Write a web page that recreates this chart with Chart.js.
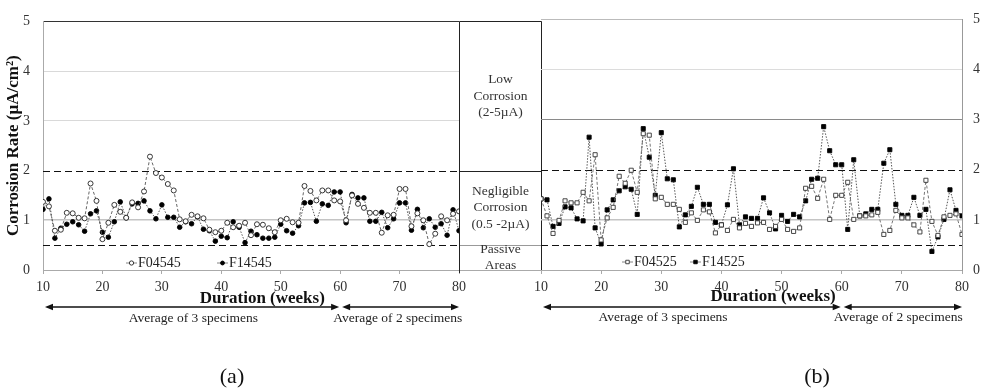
<!DOCTYPE html>
<html>
<head>
<meta charset="utf-8">
<script src="https://cdn.jsdelivr.net/npm/chart.js@4.4.1/dist/chart.umd.min.js"></script>
<style>
  html, body { margin: 0; padding: 0; background: #fff; }
  body { width: 984px; height: 391px; position: relative; overflow: hidden; font-family: "Liberation Serif", "Times New Roman", serif; }
  canvas { position: absolute; top: 0; }
  #chartA { left: 0; }
  #chartB { left: 500px; }
  .cap { position: absolute; top: 376px; font-size: 22px; color: #111; transform: translate(-50%, -50%); white-space: nowrap; }
</style>
</head>
<body>
<canvas id="chartA" width="545" height="391"></canvas>
<canvas id="chartB" width="484" height="391"></canvas>
<div class="cap" style="left:232px">(a)</div>
<div class="cap" style="left:817px">(b)</div>
<script>
// Exposure time, weeks
const weeks = [10, 11, 12, 13, 14, 15, 16, 17, 18, 19,
               20, 21, 22, 23, 24, 25, 26, 27, 28, 29,
               30, 31, 32, 33, 34, 35, 36, 37, 38, 39,
               40, 41, 42, 43, 44, 45, 46, 47, 48, 49,
               50, 51, 52, 53, 54, 55, 56, 57, 58, 59,
               60, 61, 62, 63, 64, 65, 66, 67, 68, 69,
               70, 71, 72, 73, 74, 75, 76, 77, 78, 79, 80];

// Corrosion rate, µA/cm² — panel (a)
const F04545 = [1.37, 1.28, 0.79, 0.81, 1.15, 1.14, 1.05, 1.04, 1.74, 1.39,
                0.62, 0.95, 1.31, 1.17, 1.05, 1.36, 1.26, 1.58, 2.28, 1.95,
                1.86, 1.73, 1.60, 1.02, 0.98, 1.11, 1.08, 1.04, 0.81, 0.76,
                0.79, 0.95, 0.86, 0.89, 0.95, 0.70, 0.92, 0.91, 0.84, 0.76,
                1.00, 1.03, 0.96, 0.95, 1.69, 1.59, 1.40, 1.60, 1.60, 1.40,
                1.38, 1.00, 1.50, 1.33, 1.25, 1.15, 1.15, 0.75, 1.10, 1.11,
                1.63, 1.63, 0.88, 1.14, 1.00, 0.52, 0.73, 1.08, 1.00, 1.13, 1.18];
const F14545 = [1.22, 1.43, 0.64, 0.84, 0.92, 0.97, 0.91, 0.78, 1.13, 1.19,
                0.76, 0.66, 0.97, 1.37, 1.05, 1.33, 1.34, 1.39, 1.19, 1.03,
                1.31, 1.06, 1.06, 0.86, 0.97, 0.93, 1.07, 0.82, 0.79, 0.58,
                0.68, 0.65, 0.97, 0.86, 0.55, 0.78, 0.71, 0.64, 0.64, 0.66,
                0.92, 0.79, 0.74, 0.89, 1.35, 1.36, 0.98, 1.33, 1.30, 1.57,
                1.57, 0.95, 1.52, 1.45, 1.45, 0.98, 0.98, 1.16, 0.85, 1.03,
                1.35, 1.35, 0.80, 1.22, 0.85, 1.03, 0.86, 0.93, 0.70, 1.21, 0.79];

// Corrosion rate, µA/cm² — panel (b)
const F04525 = [1.42, 1.08, 0.73, 0.99, 1.38, 1.34, 1.34, 1.55, 1.38, 2.30,
                0.60, 1.04, 1.25, 1.87, 1.73, 1.99, 1.55, 2.72, 2.69, 1.42,
                1.45, 1.31, 1.31, 1.21, 0.95, 1.14, 0.99, 1.20, 1.16, 0.74,
                0.90, 0.79, 1.01, 0.84, 0.93, 0.87, 0.94, 0.95, 0.81, 0.87,
                1.01, 0.81, 0.77, 0.84, 1.63, 1.67, 1.43, 1.81, 1.01, 1.49,
                1.49, 1.75, 1.01, 1.08, 1.08, 1.10, 1.15, 0.71, 0.79, 1.19,
                1.04, 1.04, 0.90, 0.76, 1.79, 0.97, 0.69, 1.06, 1.09, 1.12, 0.71];
const F14525 = [1.42, 1.40, 0.87, 0.93, 1.26, 1.24, 1.02, 0.98, 2.65, 0.84,
                0.52, 1.20, 1.40, 1.58, 1.66, 1.61, 1.11, 2.82, 2.25, 1.49,
                2.74, 1.82, 1.80, 0.86, 1.10, 1.27, 1.65, 1.31, 1.31, 0.95,
                0.90, 1.30, 2.02, 0.90, 1.06, 1.03, 1.03, 1.44, 1.14, 0.82,
                1.09, 0.97, 1.11, 1.06, 1.38, 1.81, 1.83, 2.86, 2.38, 2.10,
                2.10, 0.81, 2.20, 1.08, 1.12, 1.21, 1.21, 2.13, 2.40, 1.31,
                1.09, 1.09, 1.45, 1.09, 1.21, 0.37, 0.66, 1.01, 1.60, 1.19, 1.08];

// Classification limits, µA/cm²
const limits = [0.5, 2];

// Corrosion classes shown between the two panels
const classBands = [
  { from: 2,   to: 5,   lines: ['Low', 'Corrosion', '(2-5µA)'] },
  { from: 0.5, to: 2,   lines: ['Negligible', 'Corrosion', '(0.5 -2µA)'] },
  { from: 0,   to: 0.5, lines: ['Passive', 'Areas'] }
];

// Number of specimens averaged over each time span
const specimenSpans = [
  { from: 10, to: 60, text: 'Average of 3 specimens' },
  { from: 60, to: 80, text: 'Average of 2 specimens' }
];

const SERIF = '"Liberation Serif", "Times New Roman", serif';
Chart.defaults.font.family = SERIF;

function pairs(values) {
  return weeks.map((w, i) => ({ x: w, y: values[i] }));
}

function arrowHead(ctx, x, y, dir) {
  ctx.beginPath();
  ctx.moveTo(x, y);
  ctx.lineTo(x - dir * 8, y - 3.3);
  ctx.lineTo(x - dir * 8, y + 3.3);
  ctx.closePath();
  ctx.fill();
}

const decor = {
  id: 'decor',
  beforeDatasetsDraw(chart) {
    const { ctx, chartArea: a, scales: { y } } = chart;
    ctx.save();
    ctx.strokeStyle = '#111';
    ctx.lineWidth = 1.2;
    ctx.setLineDash([7, 4]);
    limits.forEach(v => {
      const py = Math.round(y.getPixelForValue(v)) + 0.5;
      ctx.beginPath();
      ctx.moveTo(a.left, py);
      ctx.lineTo(a.right, py);
      ctx.stroke();
    });
    ctx.restore();
  },
  afterDraw(chart, args, o) {
    const { ctx, chartArea: a, scales: { x, y } } = chart;
    ctx.save();

    // class column to the right of the plot
    if (o.bandWidth) {
      const L = Math.round(a.right) + 0.5;
      const R = Math.round(a.right + o.bandWidth) + 0.5;
      const rule = (v, color) => {
        const py = Math.round(y.getPixelForValue(v)) + 0.5;
        ctx.strokeStyle = color;
        ctx.beginPath(); ctx.moveTo(L, py); ctx.lineTo(R, py); ctx.stroke();
      };
      ctx.lineWidth = 1;
      rule(5, '#222');
      rule(2, '#222');
      rule(0.5, '#999');
      rule(0, '#aaa');
      ctx.strokeStyle = '#222';
      [L, R].forEach(px => {
        ctx.beginPath(); ctx.moveTo(px, a.top); ctx.lineTo(px, a.bottom + 3); ctx.stroke();
      });
      ctx.fillStyle = '#333';
      ctx.font = `13.5px ${SERIF}`;
      ctx.textAlign = 'center';
      ctx.textBaseline = 'middle';
      const cx = (L + R) / 2;
      classBands.forEach(b => {
        const cy = (y.getPixelForValue(b.from) + y.getPixelForValue(b.to)) / 2;
        const lh = 16.5;
        b.lines.forEach((t, i) => {
          ctx.fillText(t, cx, cy + (i - (b.lines.length - 1) / 2) * lh);
        });
      });
    }

    // axis title
    ctx.fillStyle = '#111';
    ctx.font = `bold 17px ${SERIF}`;
    ctx.textAlign = 'center';
    ctx.textBaseline = 'middle';
    ctx.fillText('Duration (weeks)', x.getPixelForValue(o.titleAt), a.bottom + o.titleDy);

    // specimen-count arrows
    const ay = a.bottom + o.arrowDy;
    ctx.strokeStyle = '#111';
    ctx.fillStyle = '#111';
    ctx.lineWidth = 1.5;
    specimenSpans.forEach((s, i) => {
      const x1 = x.getPixelForValue(s.from) + 2;
      const x2 = x.getPixelForValue(s.to) + (i === 0 ? -1 : 0);
      ctx.beginPath(); ctx.moveTo(x1 + 4, ay); ctx.lineTo(x2 - 4, ay); ctx.stroke();
      arrowHead(ctx, x1, ay, -1);
      arrowHead(ctx, x2, ay, 1);
    });
    ctx.font = `13.5px ${SERIF}`;
    ctx.fillStyle = '#222';
    specimenSpans.forEach((s, i) => {
      ctx.fillText(s.text, x.getPixelForValue(o.spanTextAt[i]), a.bottom + o.spanTextDy);
    });

    // legend inside the plot, along the bottom
    ctx.font = `14px ${SERIF}`;
    ctx.textAlign = 'left';
    chart.data.datasets.forEach((ds, i) => {
      const lx = a.left + o.legendAt[i];
      const ly = a.bottom + o.legendDy;
      ctx.strokeStyle = '#666';
      ctx.lineWidth = 0.8;
      ctx.setLineDash([]);
      ctx.beginPath(); ctx.moveTo(lx, ly); ctx.lineTo(lx + 11, ly); ctx.stroke();
      ctx.fillStyle = ds.pointBackgroundColor;
      ctx.strokeStyle = ds.pointBorderColor;
      ctx.lineWidth = ds.pointBorderWidth;
      Chart.helpers.drawPoint(ctx, {
        pointStyle: ds.pointStyle, radius: ds.pointRadius * 0.85, rotation: 0, borderWidth: ds.pointBorderWidth
      }, lx + 5.5, ly);
      ctx.fillStyle = '#222';
      ctx.fillText(ds.label, lx + 12, ly);
    });
    ctx.restore();
  }
};

function series(label, values, style) {
  return Object.assign({
    label,
    data: pairs(values),
    borderWidth: 0.9,
    pointBorderWidth: 0.9,
    pointHoverRadius: 3,
    tension: 0,
    fill: false
  }, style);
}

function makeChart(id, datasets, side, gridStyle, decorOpts, pad) {
  return new Chart(document.getElementById(id), {
    type: 'line',
    data: { datasets },
    options: {
      responsive: false,
      animation: false,
      devicePixelRatio: 1,
      layout: { padding: pad },
      plugins: { legend: { display: false }, tooltip: { enabled: false }, decor: decorOpts },
      scales: {
        x: {
          type: 'linear', min: 10, max: 80,
          ticks: { stepSize: 10, color: '#333', font: { size: 14 }, padding: 5, maxRotation: 0 },
          grid: { display: true, drawOnChartArea: false, drawTicks: true, tickLength: 4, tickColor: '#aaa' },
          border: { color: '#aaa' },
          afterFit: s => { s.height = 30; }
        },
        y: {
          position: side, min: 0, max: 5,
          ticks: { stepSize: 1, color: '#333', font: { size: 14 }, padding: side === 'left' ? 13 : 11 },
          grid: {
            drawTicks: false,
            color: c => gridStyle[c.tick.value] ? gridStyle[c.tick.value][0] : 'rgba(0,0,0,0)',
            lineWidth: c => gridStyle[c.tick.value] ? gridStyle[c.tick.value][1] : 1
          },
          border: { color: side === 'left' ? '#aaa' : '#999' },
          title: side === 'left'
            ? { display: true, text: 'Corrosion Rate (µA/cm²)', color: '#111', font: { size: 17, weight: 'bold' }, padding: { top: 3, bottom: 0 } }
            : { display: false },
          afterFit: s => { s.width = side === 'left' ? 43 : 22; }
        }
      }
    },
    plugins: [decor]
  });
}

makeChart('chartA', [
  series('F04545', F04545, {
    borderColor: '#555', borderDash: [3, 2], pointStyle: 'circle', pointRadius: 2.5,
    pointBackgroundColor: '#fff', pointBorderColor: '#222'
  }),
  series('F14545', F14545, {
    borderColor: '#444', borderDash: [1.5, 1.5], pointStyle: 'circle', pointRadius: 2.3,
    pointBackgroundColor: '#000', pointBorderColor: '#000'
  })
], 'left',
  { 1: ['#c4c4c4', 1.6], 3: ['#d9d9d9', 1], 4: ['#d9d9d9', 1], 5: ['#333', 1] },
  { bandWidth: 82, titleAt: 46.9, titleDy: 29, arrowDy: 37, spanTextAt: [35.3, 69.7], spanTextDy: 48,
    legendAt: [83, 174], legendDy: -7 },
  { left: 0, right: 86, top: 13, bottom: 91 });

makeChart('chartB', [
  series('F04525', F04525, {
    borderColor: '#666', borderDash: [3, 2], pointStyle: 'rect', pointRadius: 2.9,
    pointBackgroundColor: '#fff', pointBorderColor: '#333'
  }),
  series('F14525', F14525, {
    borderColor: '#444', borderDash: [1.5, 1.5], pointStyle: 'rect', pointRadius: 2.9,
    pointBackgroundColor: '#000', pointBorderColor: '#000'
  })
], 'right',
  { 1: ['#c4c4c4', 1.6], 3: ['#8a8a8a', 1], 4: ['#dcdcdc', 1], 5: ['#bbb', 1] },
  { bandWidth: 0, titleAt: 48.6, titleDy: 27, arrowDy: 37, spanTextAt: [30.3, 69.4], spanTextDy: 47,
    legendAt: [81, 149], legendDy: -8 },
  { left: 41, right: 0, top: 13, bottom: 91 });
</script>
</body>
</html>
